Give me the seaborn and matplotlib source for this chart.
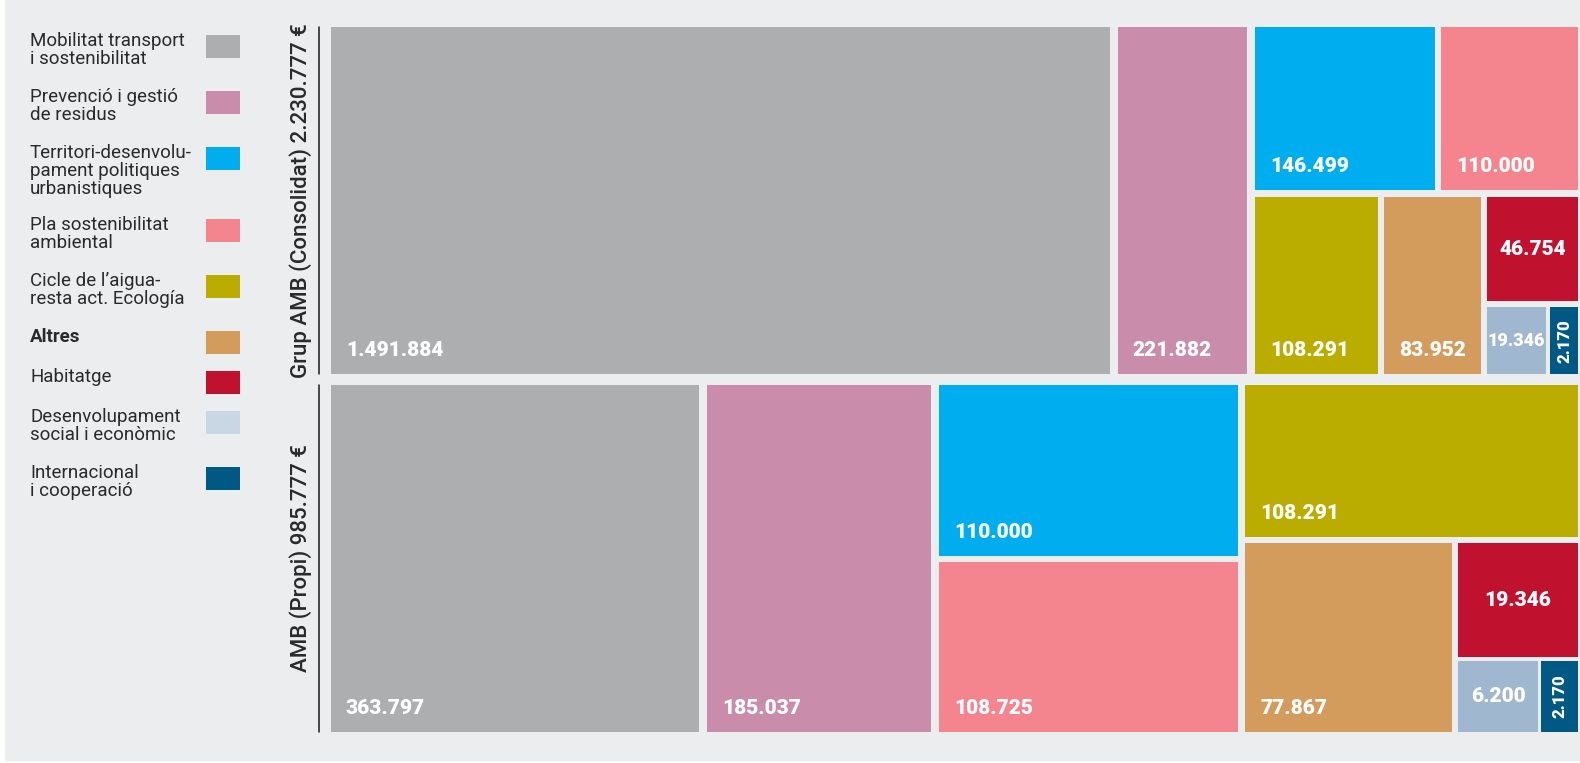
import numpy as np
import seaborn as sns
import matplotlib.pyplot as plt
from matplotlib.patches import Rectangle

# categories (legend order) and colours
categories = [
    "Mobilitat transport\ni sostenibilitat",
    "Prevenció i gestió\nde residus",
    "Territori-desenvolu-\npament politiques\nurbanistiques",
    "Pla sostenibilitat\nambiental",
    "Cicle de l’aigua-\nresta act. Ecología",
    "Altres",
    "Habitatge",
    "Desenvolupament\nsocial i econòmic",
    "Internacional\ni cooperació",
]
bold_category = "Altres"
cell_colors = ["#ADAEB0", "#C98CAA", "#00AEEF", "#F4858E", "#BAAD00",
               "#D49C5C", "#C0112E", "#9FB7CF", "#005984"]
legend_colors = ["#ADAEB0", "#C98CAA", "#00AEEF", "#F4858E", "#BAAD00",
                 "#D49C5C", "#C0112E", "#C9D6E3", "#005984"]

# the two treemaps
panel_titles = ["Grup AMB (Consolidat)", "AMB (Propi)"]
panel_totals = [2230777, 985777]
grup_values = [1491884, 221882, 146499, 110000, 108291, 83952, 46754, 19346, 2170]
propi_values = [363797, 185037, 110000, 108725, 108291, 77867, 19346, 6200, 2170]

# nesting of the cells (indices into categories), "h" = side by side, "v" = stacked
grup_tree = ("h", [0, 1, ("v", [("h", [2, 3]),
                                ("h", [4, 5, ("v", [6, ("h", [7, 8])])])])])
propi_tree = ("h", [0, 1, ("h", [("v", [2, 3]),
                                 ("v", [4, ("h", [5, ("v", [6, ("h", [7, 8])])])])])])

# layout knobs (pixels)
W, H = 1580, 763
tree_left, tree_right = 331, 1578
panel_tops = [27, 385]
panel_height = 347
gaps = [8, 7, 6, 6, 4, 3]
size_power = [0.94, 0.74]   # compress the big cells a bit like the original
min_share = 0.005
bg = "#ECEDEF"
text_col = "#2A2A2A"

sns.set_theme(style="white")
plt.rcParams["font.family"] = ["Roboto", "DejaVu Sans"]


def fmt(v):
    return f"{v:,}".replace(",", ".")


def node_weight(node, w):
    if isinstance(node, int):
        return w[node]
    return sum(node_weight(c, w) for c in node[1])


def layout(node, x, y, wd, ht, w, depth, out):
    if isinstance(node, int):
        out[node] = (x, y, wd, ht)
        return
    kind, children = node
    ws = np.array([node_weight(c, w) for c in children])
    g = gaps[depth]
    span = wd if kind == "h" else ht
    sizes = (span - g * (len(children) - 1)) * ws / ws.sum()
    pos = x if kind == "h" else y
    for c, s in zip(children, sizes):
        if kind == "h":
            layout(c, pos, y, s, ht, w, depth + 1, out)
        else:
            layout(c, x, pos, wd, s, w, depth + 1, out)
        pos += s + g


fig = plt.figure(figsize=(W / 100, H / 100), dpi=100, facecolor="white")
ax = fig.add_axes([0, 0, 1, 1])
ax.set_xlim(0, W)
ax.set_ylim(H, 0)
ax.axis("off")
ax.add_patch(Rectangle((5, 0), W - 5, 760, color=bg, zorder=0))

# legend
top = 35
for lab, col in zip(categories, legend_colors):
    n = lab.count("\n") + 1
    ax.bar(206, 23, width=34, bottom=top, align="edge", color=col, linewidth=0, zorder=2)
    ax.text(30, top - 3.5, lab, va="top", ha="left", fontsize=13.5, color=text_col,
            linespacing=1.03, fontweight="bold" if lab == bold_category else "normal")
    top += 16 * n + 24

# treemaps
for p, (values, tree) in enumerate([(grup_values, grup_tree), (propi_values, propi_tree)]):
    y0 = panel_tops[p]
    w = np.array(values, dtype=float) ** size_power[p]
    w = np.maximum(w, min_share * w.sum())
    cells = {}
    layout(tree, tree_left, y0, tree_right - tree_left, panel_height, w, 0, cells)
    for i, v in enumerate(values):
        x, y, cw, ch = cells[i]
        ax.bar(x, ch, width=cw, bottom=y, align="edge", color=cell_colors[i],
               linewidth=0, zorder=2)
        if cw < 40:
            ax.text(x + cw / 2, y + ch / 2, fmt(v), rotation=90, ha="center", va="center",
                    color="white", fontsize=12, fontweight="heavy", zorder=3)
        elif ch >= 140:
            ax.text(x + 15, y + ch - 18, fmt(v), ha="left", va="baseline",
                    color="white", fontsize=15, fontweight="heavy", zorder=3)
        else:
            ax.text(x + cw / 2, y + ch / 2, fmt(v), ha="center", va="center",
                    color="white", fontsize=13 if cw < 80 else 15, fontweight="heavy",
                    zorder=3)
    # rotated panel title with rule
    ax.text(301, y0 + panel_height / 2, f"{panel_titles[p]} {fmt(panel_totals[p])} €",
            rotation=90, ha="center", va="center", fontsize=16, fontweight="medium",
            color=text_col)
    ax.plot([318.5, 318.5], [y0, y0 + panel_height], color="#1A1A1A", lw=1.1, zorder=3)

fig.savefig("out.png", dpi=100, facecolor=fig.get_facecolor())
